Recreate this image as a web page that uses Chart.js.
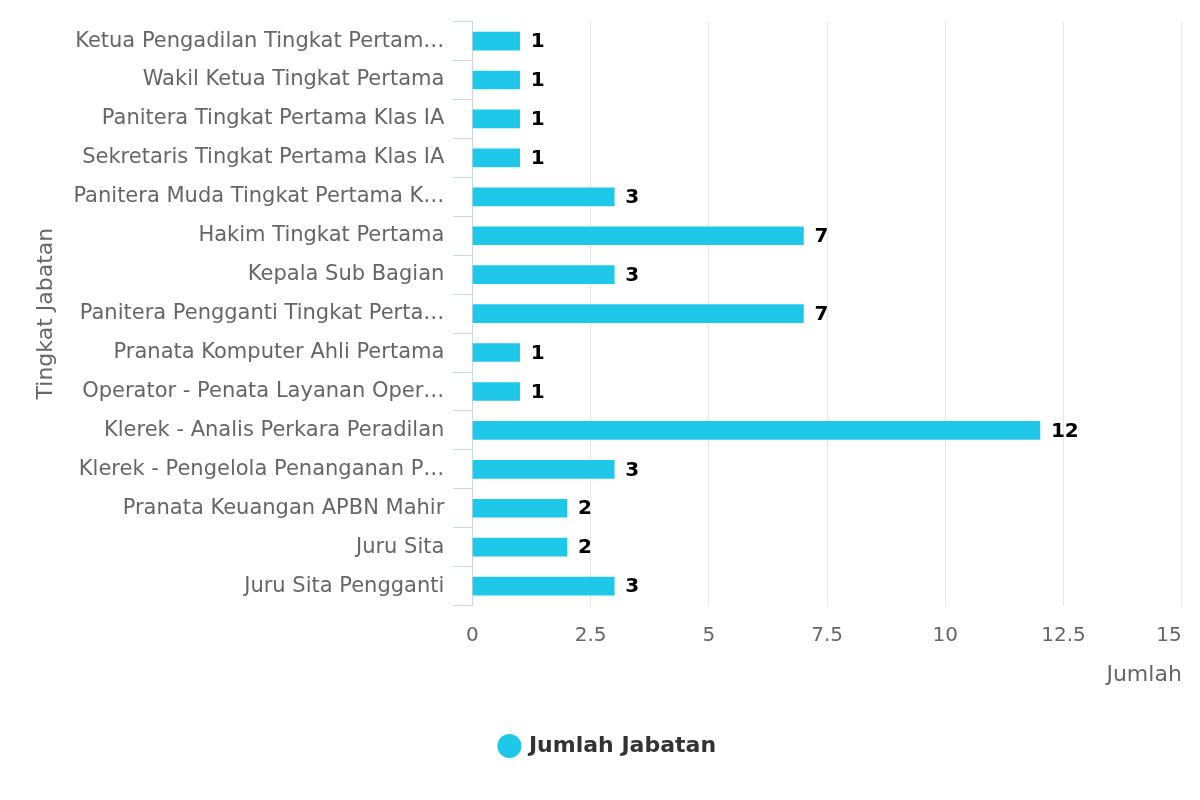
<!DOCTYPE html>
<html>
<head>
<meta charset="utf-8">
<script src="https://cdn.jsdelivr.net/npm/chart.js@4/dist/chart.umd.min.js"></script>
<style>
  html, body { margin: 0; padding: 0; background: #fff; }
  #wrap { width: 1200px; height: 800px; }
</style>
</head>
<body>
<div id="wrap"><canvas id="chart"></canvas></div>
<script>
// labels as they appear on the axis (long ones are cut off there)
const categories = [
    'Ketua Pengadilan Tingkat Pertam\u2026',
    'Wakil Ketua Tingkat Pertama',
    'Panitera Tingkat Pertama Klas IA',
    'Sekretaris Tingkat Pertama Klas IA',
    'Panitera Muda Tingkat Pertama K\u2026',
    'Hakim Tingkat Pertama',
    'Kepala Sub Bagian',
    'Panitera Pengganti Tingkat Perta\u2026',
    'Pranata Komputer Ahli Pertama',
    'Operator - Penata Layanan Oper\u2026',
    'Klerek - Analis Perkara Peradilan',
    'Klerek - Pengelola Penanganan P\u2026',
    'Pranata Keuangan APBN Mahir',
    'Juru Sita',
    'Juru Sita Pengganti'
];
const jumlahJabatan = [1, 1, 1, 1, 3, 7, 3, 7, 1, 1, 12, 3, 2, 2, 3];
const xTicks = [0, 2.5, 5, 7.5, 10, 12.5, 15];

const FONT = '"DejaVu Sans", sans-serif';
const BAR_COLOR = '#1fc8e9';

// value labels to the right of each bar
const barLabels = {
    id: 'barLabels',
    afterDatasetsDraw(chart) {
        const ctx = chart.ctx;
        const meta = chart.getDatasetMeta(0);
        ctx.save();
        ctx.font = 'bold 20px ' + FONT;
        ctx.fillStyle = '#000';
        ctx.textAlign = 'left';
        ctx.textBaseline = 'middle';
        meta.data.forEach((bar, i) => {
            ctx.fillText(String(jumlahJabatan[i]), bar.x + 11, bar.y + 1);
        });
        ctx.restore();
    }
};

// x tick labels, last one pushed inside the plot edge
const xLabels = {
    id: 'xLabels',
    afterDraw(chart) {
        const ctx = chart.ctx;
        const scale = chart.scales.x;
        const area = chart.chartArea;
        ctx.save();
        ctx.font = '20px ' + FONT;
        ctx.fillStyle = '#666666';
        ctx.textAlign = 'left';
        ctx.textBaseline = 'middle';
        xTicks.forEach(v => {
            const txt = String(v);
            const w = ctx.measureText(txt).width;
            let left = scale.getPixelForValue(v) - w / 2;
            if (left + w > area.right) left = area.right - w;
            ctx.fillText(txt, left, area.bottom + 30);
        });
        ctx.restore();
    }
};

new Chart(document.getElementById('chart'), {
    type: 'bar',
    data: {
        labels: categories,
        datasets: [{
            label: 'Jumlah Jabatan',
            data: jumlahJabatan,
            backgroundColor: BAR_COLOR,
            borderWidth: 0,
            barThickness: 18
        }]
    },
    options: {
        indexAxis: 'y',
        responsive: true,
        maintainAspectRatio: false,
        animation: false,
        layout: {
            padding: { top: 17, right: 16, left: 33, bottom: 33 }
        },
        plugins: {
            tooltip: { enabled: false },
            legend: {
                position: 'bottom',
                labels: {
                    usePointStyle: true,
                    pointStyle: 'circle',
                    boxWidth: 17,
                    boxHeight: 17,
                    color: '#333333',
                    padding: 47,
                    font: { family: FONT, size: 22, weight: 'bold' }
                }
            }
        },
        scales: {
            x: {
                min: 0,
                max: 15,
                afterBuildTicks(scale) {
                    scale.ticks = xTicks.map(v => ({ value: v }));
                },
                grid: { color: '#e6e6e6', drawTicks: false },
                border: { display: false },
                ticks: {
                    // real labels are drawn by xLabels; these only hold the space
                    callback: () => ' ',
                    padding: 15,
                    font: { family: FONT, size: 20 }
                },
                title: {
                    display: true,
                    text: 'Jumlah',
                    align: 'end',
                    color: '#666666',
                    padding: { top: 2, bottom: 0 },
                    font: { family: FONT, size: 22 }
                }
            },
            y: {
                grid: {
                    drawOnChartArea: false,
                    drawTicks: true,
                    tickLength: 19,
                    tickColor: '#ccd6eb'
                },
                border: { color: '#ccd6eb', width: 1 },
                ticks: {
                    color: '#666666',
                    padding: 9,
                    autoSkip: false,
                    font: { family: FONT, size: 21 }
                },
                title: {
                    display: true,
                    text: 'Tingkat Jabatan',
                    color: '#666666',
                    padding: { top: 0, bottom: 5 },
                    font: { family: FONT, size: 22 }
                }
            }
        }
    },
    plugins: [barLabels, xLabels]
});
</script>
</body>
</html>
